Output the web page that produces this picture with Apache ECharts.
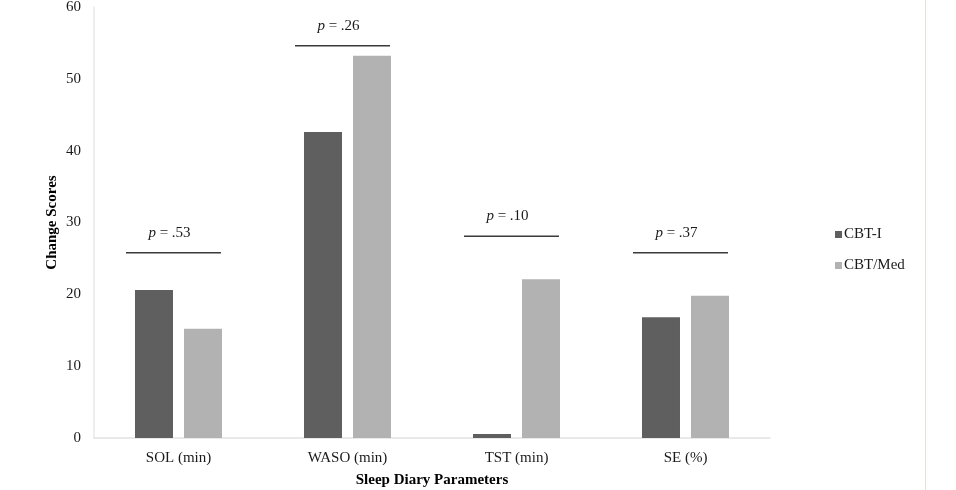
<head>
	<meta charset="utf-8">
	<script src="https://cdn.jsdelivr.net/npm/echarts@6/dist/echarts.min.js"></script>
	<style>
		html, body { margin:0; padding:0; background:#fff; }
		#chart { width:956px; height:490px; }
		#edge { position:absolute; left:925px; top:0; width:1px; height:490px; background:#e4e1d8; }
	</style>
</head>
<div id="chart"></div>
<div id="edge"></div>
<script>
	var categories = ['SOL (min)', 'WASO (min)', 'TST (min)', 'SE (%)'];
	var cbtI = [20.6, 42.6, 0.55, 16.8];
	var cbtMed = [15.2, 53.2, 22.1, 19.8];
	// p-value bracket heights (in change-score units) and labels
	var pLineY = [25.8, 54.6, 28.1, 25.8];
	var pLabels = ['.53', '.26', '.10', '.37'];
	var yTicks = [0, 10, 20, 30, 40, 50, 60];

	var font = '"Liberation Serif", "Times New Roman", serif';
	var txt = '#1a1a1a';
	var chart = echarts.init(document.getElementById('chart'));

	var option = {
		backgroundColor: '#fff',
		animation: false,
		textStyle: { fontFamily: font },
		grid: { left: 94, right: 186, top: 7, bottom: 52, containLabel: false, outerBoundsMode: 'none' },
		legend: {
			orient: 'vertical',
			left: 830,
			top: 222,
			itemWidth: 7,
			itemHeight: 7,
			itemGap: 16,
			icon: 'rect',
			textStyle: { fontFamily: font, fontSize: 15, color: txt, padding: [0, 0, 0, -3] },
			data: ['CBT-I', 'CBT/Med']
		},
		xAxis: {
			type: 'category',
			data: categories,
			name: 'Sleep Diary Parameters',
			nameLocation: 'middle',
			nameGap: 35,
			nameTextStyle: { fontFamily: font, fontSize: 15, fontWeight: 'bold', color: '#000' },
			axisLine: { lineStyle: { color: '#e2e2e2', width: 1.5 } },
			axisTick: { show: false },
			axisLabel: { fontFamily: font, fontSize: 15, color: txt, margin: 13 },
			splitLine: { show: false }
		},
		yAxis: {
			type: 'value',
			min: yTicks[0],
			max: yTicks[yTicks.length - 1],
			interval: 10,
			name: 'Change Scores',
			nameLocation: 'middle',
			nameGap: 34,
			nameMoveOverlap: false,
			nameTextStyle: { fontFamily: font, fontSize: 15, fontWeight: 'bold', color: '#000' },
			axisLine: { show: true, lineStyle: { color: '#e8e8e8', width: 1.5 } },
			axisTick: { show: false },
			axisLabel: { fontFamily: font, fontSize: 15, color: txt, margin: 13 },
			splitLine: { show: false }
		},
		series: [
			{
				name: 'CBT-I',
				type: 'bar',
				data: cbtI,
				barWidth: 38,
				barGap: '29%',
				itemStyle: { color: '#5f5f5f' }
			},
			{
				name: 'CBT/Med',
				type: 'bar',
				data: cbtMed,
				barWidth: 38,
				barGap: '29%',
				itemStyle: { color: '#b2b2b2' }
			},
			{
				name: 'p',
				type: 'custom',
				silent: true,
				z: 5,
				data: pLineY.map(function (v, i) { return [i, v]; }),
				renderItem: function (params, api) {
					var c = api.coord([api.value(0), api.value(1)]);
					var band = api.size([1, 0])[0];
					var half = band * 0.281;
					var cx = c[0] - 5;
					var lab = pLabels[params.dataIndex];
					return {
						type: 'group',
						children: [
							{
								type: 'line',
								shape: { x1: cx - half, y1: c[1], x2: cx + half, y2: c[1] },
								style: { stroke: '#3a3a3a', lineWidth: 1.5 }
							},
							{
								type: 'text',
								x: cx - 4,
								y: c[1] - 20,
								style: {
									text: '{i|p} = ' + lab,
									align: 'center',
									verticalAlign: 'middle',
									fontFamily: font,
									fontSize: 15,
									fill: txt,
									rich: {
										i: { fontStyle: 'italic', fontFamily: font, fontSize: 15, fill: txt }
									}
								}
							}
						]
					};
				}
			}
		]
	};

	chart.setOption(option);
</script>
